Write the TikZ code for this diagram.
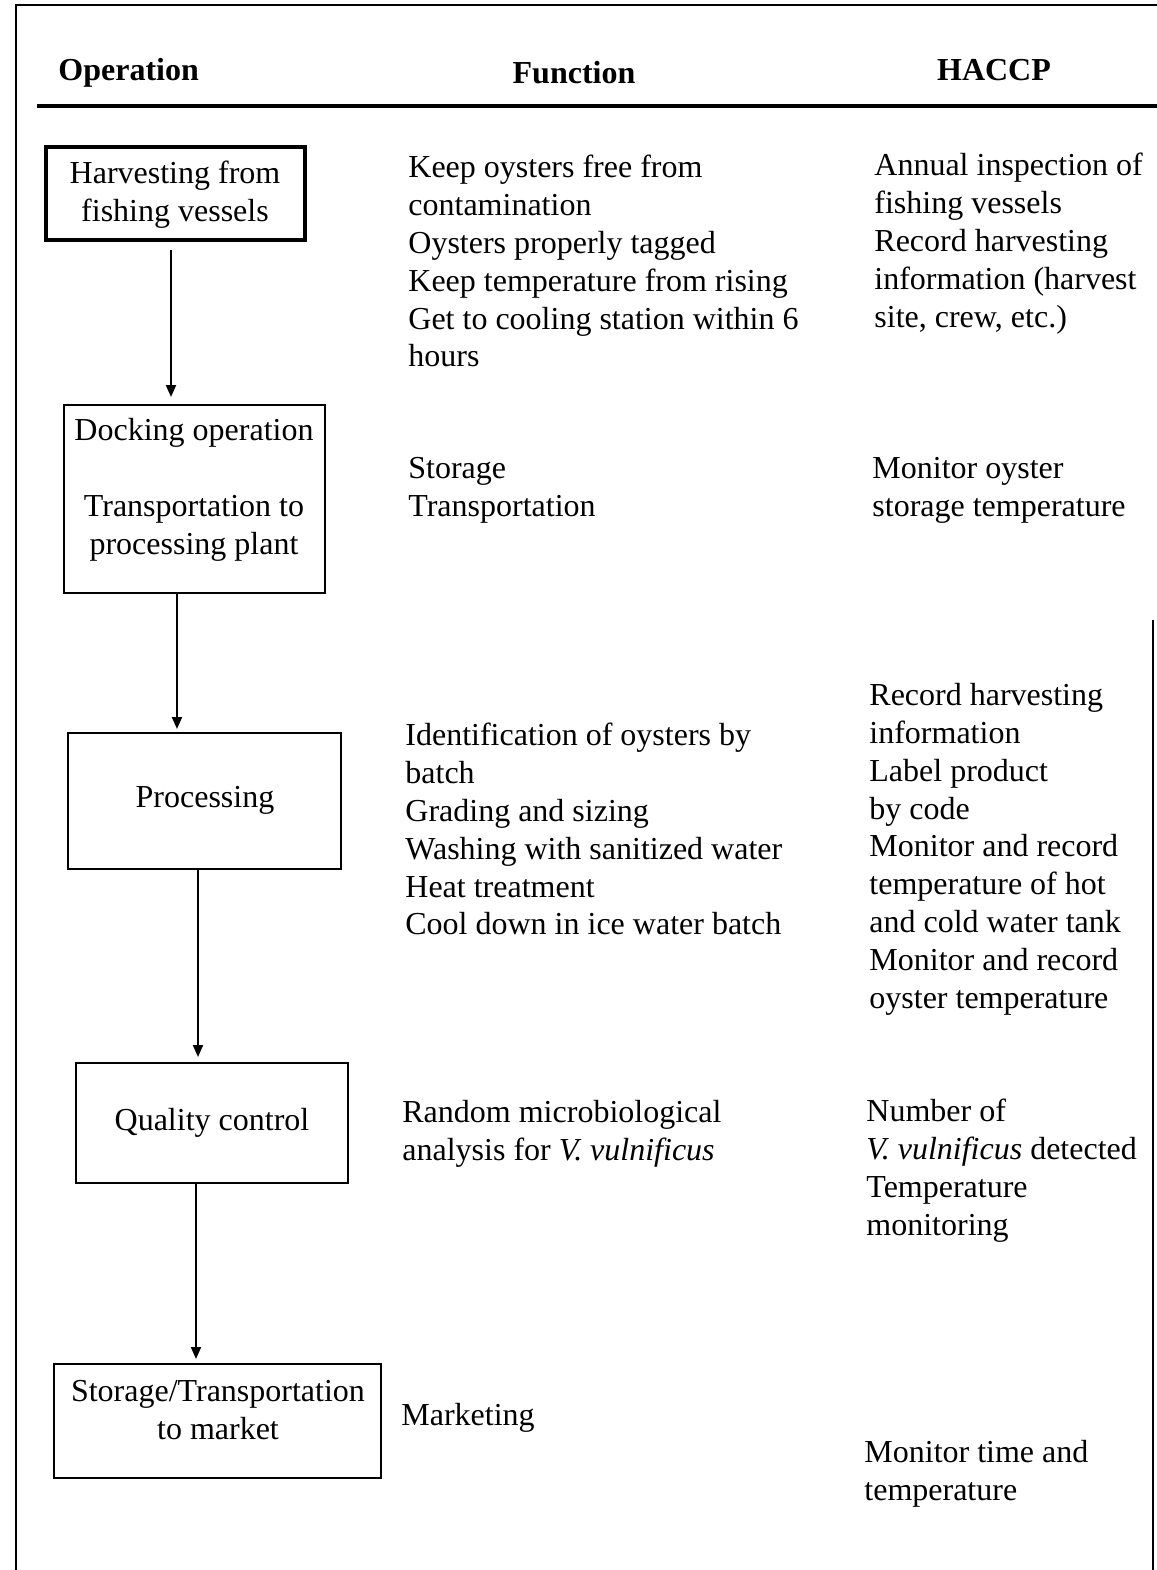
\documentclass[tikz,border=0pt]{standalone}
\usepackage{fontspec}
\setmainfont{Liberation Serif}
\usetikzlibrary{arrows.meta}
\begin{document}
\begin{tikzpicture}[x=0.5pt,y=-0.5pt,
  txt/.style={anchor=north west, inner sep=0pt, align=left, font=\fontsize{16}{18.9}\selectfont},
  boxtxt/.style={anchor=center, inner sep=0pt, align=center, font=\fontsize{16}{18.9}\selectfont},
  hdr/.style={anchor=base, inner sep=0pt, font=\fontsize{16}{18.9}\selectfont\bfseries},
  opbox/.style={draw, line width=1pt, inner sep=0pt},
  arr/.style={line width=1pt, -{Triangle[length=6pt,width=5pt]}}]
\useasboundingbox (0,0) rectangle (1157,1570);
% frame
\draw[line width=1.3pt] (1157,5) -- (16,5) -- (16,1570);
\draw[line width=1.2pt] (1153,620) -- (1153,1570);
\draw[line width=2.3pt] (37,106) -- (1157,106);
% headers
\node[hdr, anchor=base west] (hop) at (58,80) {Operation};
\node[hdr] (hfn) at (574,83) {Function};
\node[hdr] (hha) at (994,80) {HACCP};
% operation boxes
\node[opbox, line width=1.8pt, minimum width=129.5pt, minimum height=46.5pt] (b1) at (175.5,193.5) {};
\node[opbox, minimum width=130.5pt, minimum height=94pt] (b2) at (194.5,499) {};
\node[opbox, minimum width=136.5pt, minimum height=68pt] (b3) at (204.5,801) {};
\node[opbox, minimum width=136pt, minimum height=60pt] (b4) at (212,1123) {};
\node[opbox, minimum width=163.5pt, minimum height=57pt] (b5) at (217.5,1421) {};
% box texts
\node[boxtxt] (t1) at (175,195) {Harvesting from\\fishing vessels};
\node[boxtxt] (t2) at (194,490) {Docking operation\\[18.9pt]Transportation to\\processing plant};
\node[boxtxt] (t3) at (205,800) {Processing};
\node[boxtxt] (t4) at (212,1123) {Quality control};
\node[boxtxt] (t5) at (218,1410) {Storage/Transportation\\to market};
% arrows
\draw[arr] ([xshift=-2.25pt,yshift=-4pt]b1.south) -- ([xshift=-11.75pt,yshift=3.5pt]b2.north);
\draw[arr] ([xshift=-8.75pt]b2.south) -- ([xshift=-13.75pt,yshift=1.5pt]b3.north);
\draw[arr] ([xshift=-3.25pt]b3.south) -- ([xshift=-7pt,yshift=2.5pt]b4.north);
\draw[arr] ([xshift=-8pt]b4.south) -- ([xshift=-10.75pt,yshift=2pt]b5.north);
% function column
\node[txt] (f1) at (408,155) {Keep oysters free from\\contamination\\Oysters properly tagged\\Keep temperature from rising\\Get to cooling station within 6\\hours};
\node[txt] (f2) at (408,457) {Storage\\Transportation};
\node[txt] (f3) at (405,723) {Identification of oysters by\\batch\\Grading and sizing\\Washing with sanitized water\\Heat treatment\\Cool down in ice water batch};
\node[txt] (f4) at (402,1100) {Random microbiological\\analysis for \textit{V. vulnificus}};
\node[txt] (f5) at (401,1403) {Marketing};
% HACCP column
\node[txt] (h1) at (874,153) {Annual inspection of\\fishing vessels\\Record harvesting\\information (harvest\\site, crew, etc.)};
\node[txt] (h2) at (872,457) {Monitor oyster\\storage temperature};
\node[txt] (h3) at (869,683) {Record harvesting\\information\\Label product\\by code\\Monitor and record\\temperature of hot\\and cold water tank\\Monitor and record\\oyster temperature};
\node[txt] (h4) at (866,1099) {Number of\\\textit{V. vulnificus} detected\\Temperature\\monitoring};
\node[txt] (h5) at (864,1440) {Monitor time and\\temperature};
\end{tikzpicture}
\end{document}
